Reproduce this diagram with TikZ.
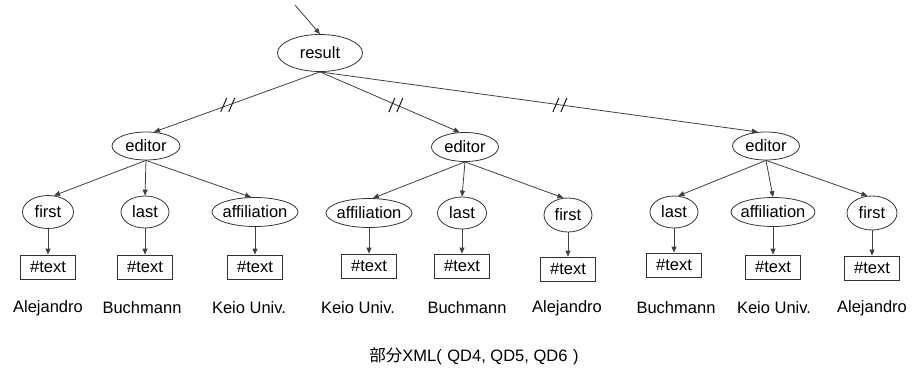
\documentclass[tikz,border=0pt]{standalone}
\usepackage{fontspec}
\setmainfont{Liberation Sans}
\newfontfamily\jpfont{Noto Sans CJK JP}
\usetikzlibrary{shapes.geometric,arrows.meta}

% Draws the "//" marks on a result-to-editor edge
\newcommand\slashmark[1]{%
  \draw[slashline] ([shift={(-8,7)}]#1) -- ++(6,-14);
  \draw[slashline] ([shift={(0,7)}]#1) -- ++(6,-14);
}

\begin{document}
\begin{tikzpicture}[x=1pt,y=-1pt,
  every node/.style={font=\fontsize{16.5}{18}\selectfont, inner sep=0pt},
  elem/.style 2 args={ellipse, draw=black!80, line width=0.8pt,
    inner xsep=-8pt, inner ysep=0pt,
    minimum width=#1pt, minimum height=#2pt},
  txtbox/.style={rectangle, draw=black!80, line width=0.8pt,
    minimum width=55pt, minimum height=24pt},
  leaf/.style={anchor=center},
  link/.style={draw=black!75, line width=0.8pt,
    -{Triangle[length=6pt,width=5pt]}},
  slashline/.style={draw=black!90, line width=1pt},
]
\useasboundingbox (0,0) rectangle (913,377);

% root
\node[elem={85}{37}] (result) at (320,53) {result};
\coordinate (entry) at (295,5);
\draw[link] (entry) -- (result.north);

% editors
\node[elem={68}{28}] (ed1) at (146,146) {editor};
\node[elem={67}{29}] (ed2) at (465,147) {editor};
\node[elem={67}{28}] (ed3) at (766,146) {editor};

\draw[link] (result.south) -- (ed1.60)  coordinate[pos=0.55] (m1);
\draw[link] (result.south) -- (ed2.110) coordinate[pos=0.55] (m2);
\draw[link] (result.south) -- (ed3.120) coordinate[pos=0.55] (m3);
\slashmark{m1}
\slashmark{m2}
\slashmark{m3}

% first subtree: first, last, affiliation
\node[elem={51}{33}] (f1) at (48,212)  {first};
\node[elem={48}{32}] (l1) at (145,212) {last};
\node[elem={86}{29}] (a1) at (255,212) {affiliation};
\draw[link] (ed1.south) -- (f1.70);
\draw[link] (ed1.south) -- (l1.north);
\draw[link] (ed1.south) -- (a1.105);

% second subtree: affiliation, last, first
\node[elem={86}{29}] (a2) at (369,213) {affiliation};
\node[elem={49}{32}] (l2) at (462,213) {last};
\node[elem={48}{34}] (f2) at (568,215) {first};
\draw[link] (ed2.south) -- (a2.75);
\draw[link] (ed2.south) -- (l2.north);
\draw[link] (ed2.south) -- (f2.105);

% third subtree: last, affiliation, first
\node[elem={48}{32}] (l3) at (674,212) {last};
\node[elem={84}{29}] (a3) at (773,212) {affiliation};
\node[elem={50}{34}] (f3) at (872,213) {first};
\draw[link] (ed3.south) -- (l3.75);
\draw[link] (ed3.south) -- (a3.north);
\draw[link] (ed3.south) -- (f3.105);

% #text boxes
\node[txtbox] (t1) at (48,267)  {\#text};
\node[txtbox] (t2) at (145,267) {\#text};
\node[txtbox] (t3) at (255,267) {\#text};
\node[txtbox] (t4) at (369,266) {\#text};
\node[txtbox] (t5) at (462,266) {\#text};
\node[txtbox] (t6) at (568,269) {\#text};
\node[txtbox] (t7) at (674,265) {\#text};
\node[txtbox] (t8) at (773,267) {\#text};
\node[txtbox] (t9) at (872,268) {\#text};

\draw[link] (f1.south) -- (t1.north);
\draw[link] (l1.south) -- (t2.north);
\draw[link] (a1.south) -- (t3.north);
\draw[link] (a2.south) -- (t4.north);
\draw[link] (l2.south) -- (t5.north);
\draw[link] (f2.south) -- (t6.north);
\draw[link] (l3.south) -- (t7.north);
\draw[link] (a3.south) -- (t8.north);
\draw[link] (f3.south) -- (t9.north);

% text values
\node[leaf] (v1) at (48,308)  {Alejandro};
\node[leaf] (v2) at (142,308) {Buchmann};
\node[leaf] (v3) at (249,308) {Keio Univ.};
\node[leaf] (v4) at (358,308) {Keio Univ.};
\node[leaf] (v5) at (467,308) {Buchmann};
\node[leaf] (v6) at (567,308) {Alejandro};
\node[leaf] (v7) at (676,308) {Buchmann};
\node[leaf] (v8) at (774,308) {Keio Univ.};
\node[leaf] (v9) at (872,308) {Alejandro};

% caption
\node (cap) at (474,356) {{\jpfont 部分}XML(\,\,QD4, QD5, QD6\,\,)};
\end{tikzpicture}
\end{document}
